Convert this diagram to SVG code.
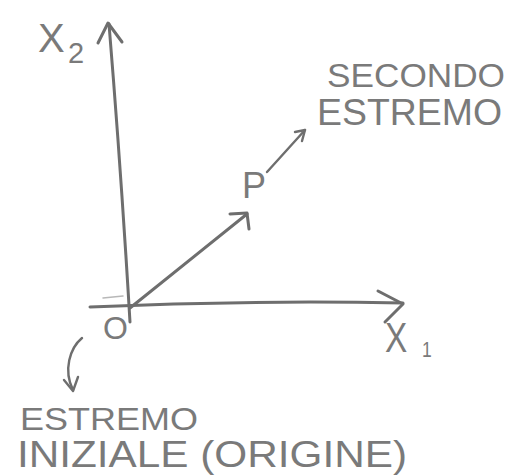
<svg xmlns="http://www.w3.org/2000/svg" width="516" height="475" viewBox="0 0 516 475">
<style>
.ln{fill:none;stroke:#6e6e6e;stroke-width:3;stroke-linecap:round;stroke-linejoin:round}
.thin{stroke-width:2.4}
.tx{font-family:"Liberation Sans","DejaVu Sans",sans-serif;fill:#7a7a7a}
</style>
<rect width="516" height="475" fill="#ffffff"/>
<g id="connectors">
<path class="ln" d="M130,322 Q121,170 109,24"/>
<path class="ln" d="M98,43 L108,23 L122,42"/>
<path class="ln" d="M90,307 Q250,300 403,303"/>
<path class="ln" d="M378,291 L403,304 L385,322"/>
<path class="ln" d="M130,308 L247,214"/>
<path class="ln" d="M230,214 L247,213 L249,229"/>
<path class="ln thin" d="M267,172 L305,130"/>
<path class="ln thin" d="M295,132 L305,130 L302,141"/>
<path class="ln thin" d="M82,338 C70,348 63,370 73,390"/>
<path class="ln thin" d="M64,380 L73,391 L78,377"/>
<path d="M103,298 L123,296" fill="none" stroke="#b8b8b8" stroke-width="1.5" stroke-linecap="round"/>
</g>
<g id="label-x2"><text class="tx" x="38" y="52" font-size="40">X<tspan x="68" y="63" font-size="29">2</tspan></text></g>
<g id="label-x1"><text class="tx" x="385" y="352" font-size="42" textLength="32" lengthAdjust="spacingAndGlyphs">X<tspan x="422" y="357" font-size="22">1</tspan></text></g>
<g id="label-o"><text class="tx" x="103" y="339" font-size="32">O</text></g>
<g id="label-p"><text class="tx" x="242" y="198" font-size="36">P</text></g>
<g id="label-secondo">
<text class="tx" x="327" y="87" font-size="33" textLength="178" lengthAdjust="spacingAndGlyphs">SECONDO</text>
<text class="tx" x="317" y="125" font-size="36" textLength="185" lengthAdjust="spacingAndGlyphs">ESTREMO</text>
</g>
<g id="label-iniziale">
<text class="tx" x="20" y="430" font-size="32" textLength="178" lengthAdjust="spacingAndGlyphs">ESTREMO</text>
<text class="tx" x="17" y="467" font-size="36" textLength="390" lengthAdjust="spacingAndGlyphs">INIZIALE (ORIGINE)</text>
</g>
</svg>
